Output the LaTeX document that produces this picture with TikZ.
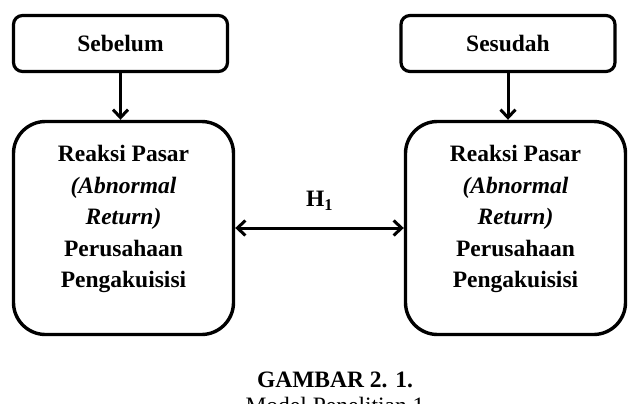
\documentclass[tikz,border=0pt]{standalone}
\usepackage{fontspec}
\setmainfont{Liberation Serif}
\usetikzlibrary{arrows.meta}
\usetikzlibrary{calc}
\usetikzlibrary{positioning}
\tikzset{>={Straight Barb[length=8pt,width=15pt]}}
\tikzstyle{smallbox}=[draw,line width=3.2pt,rounded corners=9pt,minimum width=214pt,minimum height=56pt,font=\fontsize{23.5}{26}\selectfont\bfseries]
\tikzstyle{bigbox}=[draw,line width=3.4pt,rounded corners=32pt,minimum width=220pt,minimum height=213pt]
\tikzstyle{boxtext}=[align=center,font=\fontsize{23.5}{31.5}\selectfont\bfseries]
\tikzstyle{link}=[->,line width=3pt]

\begin{document}
\begin{tikzpicture}[x=1pt,y=1pt]
    \useasboundingbox (0,0) rectangle (632,-404);
    \node[smallbox] (sebelum) at (120.5,-43.5) {Sebelum};
    \node[smallbox] (sesudah) at (508,-43.5) {Sesudah};

    \node[bigbox] (reaksiL) at (123.5,-228) {};
    \node[bigbox] (reaksiR) at (515.5,-228) {};
    \node[boxtext] (teksL) at ([yshift=9pt]reaksiL.center) {Reaksi Pasar\\\textit{(Abnormal}\\\textit{Return)}\\Perusahaan\\Pengakuisisi};
    \node[boxtext] (teksR) at ([yshift=9pt]reaksiR.center) {Reaksi Pasar\\\textit{(Abnormal}\\\textit{Return)}\\Perusahaan\\Pengakuisisi};

    \draw[link] (sebelum.south) -- (sebelum.south |- reaksiL.north);
    \draw[link] (sesudah.south) -- (sesudah.south |- reaksiR.north);
    \draw[link,<->] (reaksiL.east) -- (reaksiR.west) node[midway,above=13pt,font=\fontsize{23.5}{26}\selectfont\bfseries] (hipo) {H\textsubscript{1}};

    % caption
    \node[font=\fontsize{23.5}{26}\selectfont\bfseries] (judul) at (335,-380) {GAMBAR 2. 1.};
    \node[font=\fontsize{23.5}{26}\selectfont,below=2pt of judul] (subjudul) {Model Penelitian 1};
\end{tikzpicture}
\end{document}
